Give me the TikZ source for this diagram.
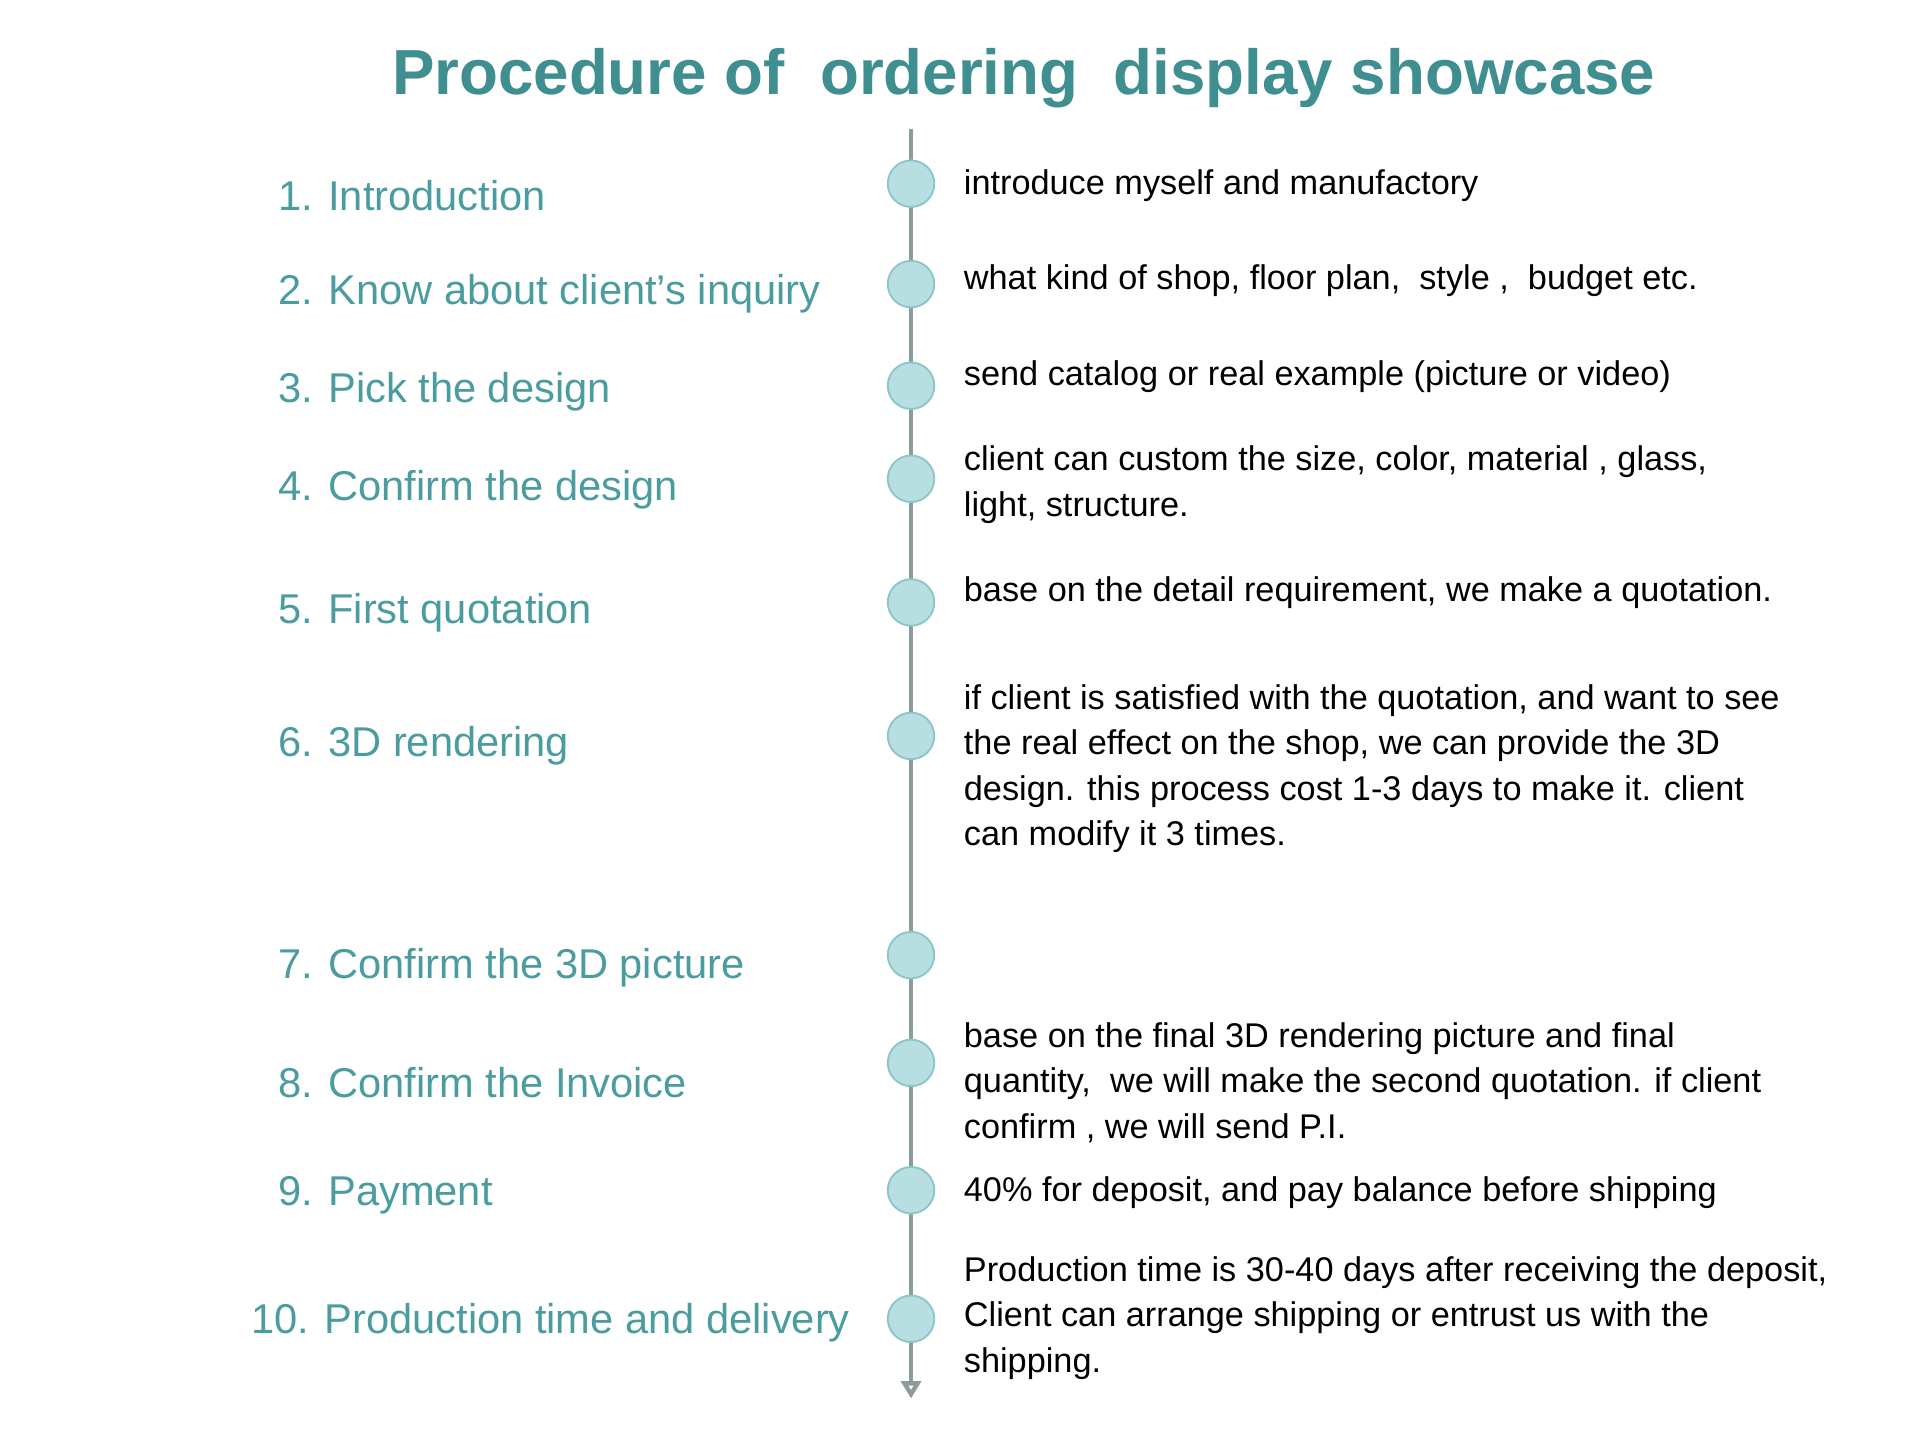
\documentclass[tikz,border=0pt]{standalone}
\usepackage{fontspec}
\setmainfont{Liberation Sans}
\usetikzlibrary{arrows.meta}
\definecolor{teal1}{HTML}{3F8E90}
\definecolor{teal2}{HTML}{4A9C9E}
\definecolor{cfill}{HTML}{B7DFE1}
\definecolor{cline}{HTML}{8CC5C8}
\definecolor{gline}{HTML}{8A9C9C}
\begin{document}
\begin{tikzpicture}[x=1pt,y=-1pt,
  lab/.style={anchor=west,inner sep=0,text=teal2,font=\fontsize{34}{40}\selectfont},
  desc/.style={anchor=north west,inner sep=0,align=left,font=\fontsize{28}{37}\selectfont},
  dot/.style={circle,fill=cfill,draw=cline,line width=1.5pt,minimum size=38pt,inner sep=0}]
\useasboundingbox (0,0) rectangle (1568,1176);
\node[inner sep=0,text=teal1,font=\bfseries\fontsize{52}{60}\selectfont] (title) at (836,64) {Procedure of\ \ ordering\ \ display showcase};
\coordinate (top) at (744,105);
\coordinate (bot) at (744,1142);
\draw[gline,line width=4pt,-{Stealth[length=14pt,width=16pt,inset=0pt,open]}] (top) -- (bot);
\foreach \i/\y in {1/150,2/232,3/315,4/391,5/492,6/601,7/780,8/868,9/972,10/1077}
  \node[dot] (c\i) at (744,\y) {};
\node[lab] (l1) at (227,160) {1. Introduction};
\node[lab] (l2) at (227,240) {2. Know about client’s inquiry};
\node[lab] (l3) at (227,320) {3. Pick the design};
\node[lab] (l4) at (227,400) {4. Confirm the design};
\node[lab] (l5) at (227,500) {5. First quotation};
\node[lab] (l6) at (227,609) {6. 3D rendering};
\node[lab] (l7) at (227,790) {7. Confirm the 3D picture};
\node[lab] (l8) at (227,884) {8. Confirm the Invoice};
\node[lab] (l9) at (227,976) {9. Payment};
\node[lab] (l10) at (205,1080) {10. Production time and delivery};
\node[desc] (d1) at (787,138) {introduce myself and manufactory};
\node[desc] (d2) at (787,216) {what kind of shop, floor plan,\ \ style\ ,\ \ budget etc.};
\node[desc] (d3) at (787,294) {send catalog or real example (picture or video)};
\node[desc] (d4) at (787,364) {client can custom the size, color, material , glass,\\light, structure.};
\node[desc] (d5) at (787,471) {base on the detail requirement, we make a quotation.};
\node[desc] (d6) at (787,559) {if client is satisfied with the quotation, and want to see\\the real effect on the shop, we can provide the 3D\\design. this process cost 1-3 days to make it. client\\can modify it 3 times.};
\node[desc] (d8) at (787,835) {base on the final 3D rendering picture and final\\quantity,\ \ we will make the second quotation. if client\\confirm , we will send P.I.};
\node[desc] (d9) at (787,961) {40\% for deposit, and pay balance before shipping};
\node[desc] (d10) at (787,1026) {Production time is 30-40 days after receiving the deposit,\\Client can arrange shipping or entrust us with the\\shipping.};
\end{tikzpicture}
\end{document}
